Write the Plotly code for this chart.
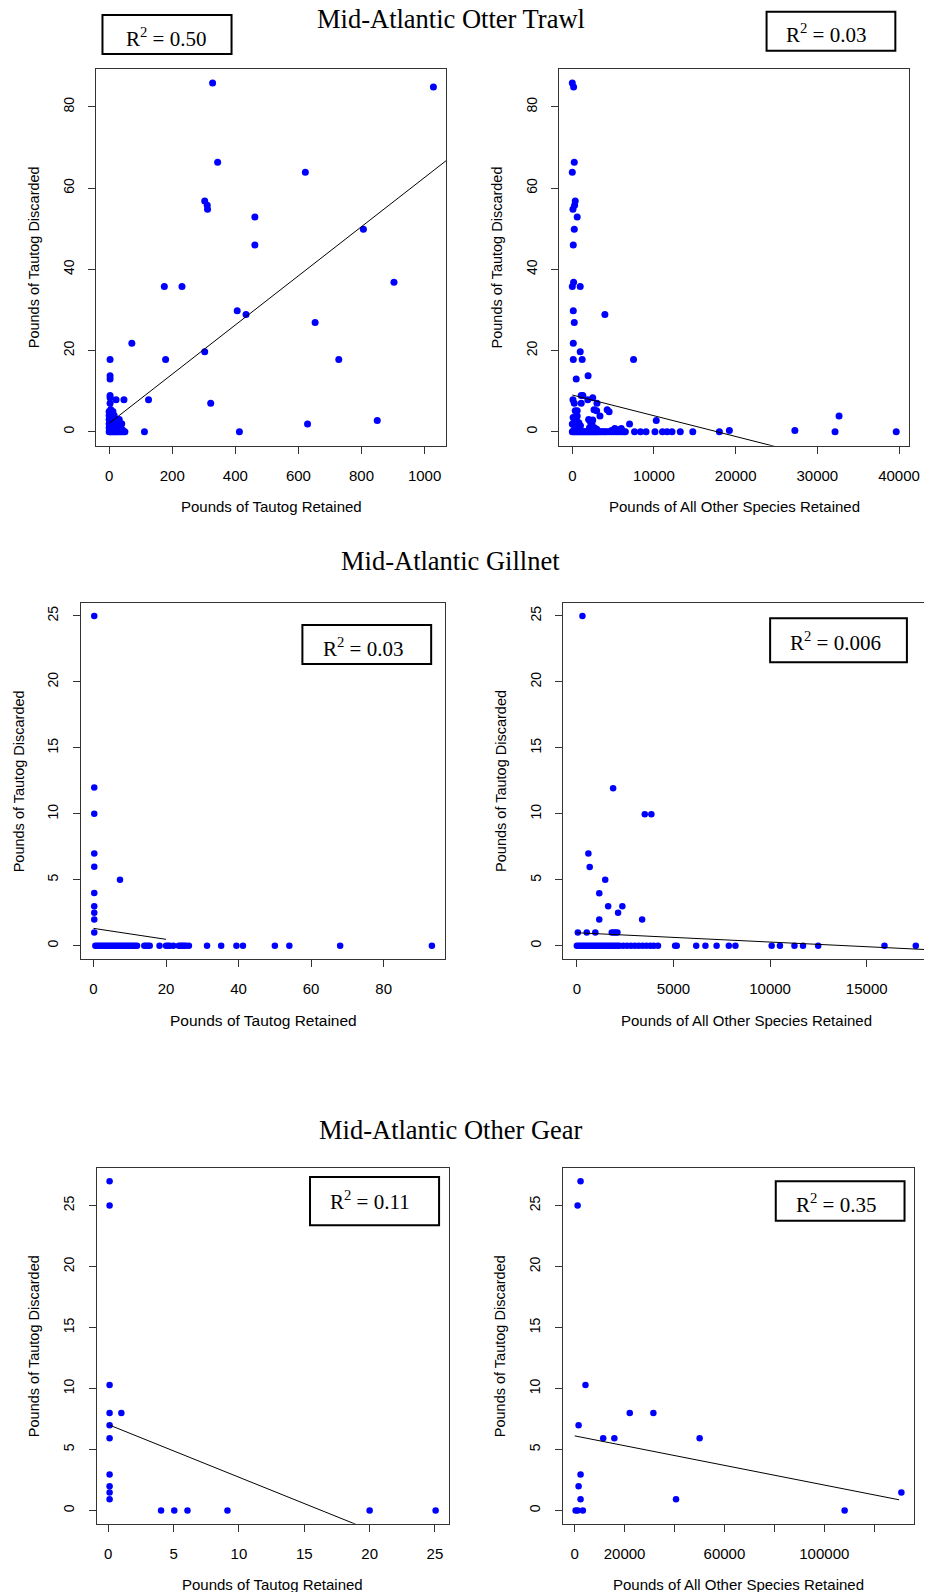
import plotly.graph_objects as go

W, H = 935, 1592

# ---------------- data ----------------
titles = ["Mid-Atlantic Otter Trawl", "Mid-Atlantic Gillnet", "Mid-Atlantic Other Gear"]
x_title_tautog = "Pounds of Tautog Retained"
x_title_other = "Pounds of All Other Species Retained"
y_title = "Pounds of Tautog Discarded"
r2_values = ["0.50", "0.03", "0.03", "0.006", "0.11", "0.35"]

# Otter trawl: (tautog retained, tautog discarded)
otter_tautog = [
    (1028, 84.9), (328, 85.9), (344, 66.4), (622, 63.9), (303, 56.8), (311, 55.8), (312, 54.8),
    (462, 52.9), (806, 49.9), (462, 46.0), (175, 35.8), (231, 35.8), (903, 36.8), (406, 29.8),
    (434, 28.9), (653, 26.9), (72, 21.8), (303, 19.7), (179, 17.8), (728, 17.8), (3, 17.8),
    (3, 13.8), (3, 13.0), (3, 8.9), (3, 8.4), (22, 7.9), (47, 7.9), (125, 7.9), (322, 7.0),
    (3, 7.0), (629, 1.9), (850, 2.8), (112, 0), (413, 0),
    (0, 0), (3, 0), (6, 0), (10, 0), (14, 0), (18, 0), (22, 0), (26, 0), (30, 0), (35, 0),
    (40, 0), (45, 0), (50, 0),
    (0, 1), (5, 1), (12, 1), (20, 1), (28, 1), (36, 1), (42, 0.5),
    (0, 2), (8, 2), (15, 2), (22, 2), (30, 2), (40, 2),
    (0, 3), (5, 3), (12, 3), (25, 3), (32, 3),
    (0, 4), (8, 4), (16, 4), (0, 5), (5, 5.5), (12, 5),
]

# Otter trawl: (all other species retained, tautog discarded)
otter_other = [
    (0, 85.9), (160, 84.9), (240, 66.4), (0, 63.9), (360, 56.8), (280, 55.8), (80, 54.8),
    (600, 52.9), (240, 49.9), (120, 46.0), (160, 36.8), (0, 35.8), (970, 35.8), (120, 29.8),
    (3990, 28.9), (240, 26.9), (120, 21.8), (970, 19.7), (120, 17.8), (1210, 17.8), (7500, 17.8),
    (480, 13.0), (1935, 13.8), (1090, 8.9), (1290, 8.9), (2500, 8.4), (80, 7.9), (1895, 7.9),
    (1090, 7.0), (240, 7.0), (3020, 7.0), (360, 5.2), (600, 5.2), (2660, 5.4), (2980, 5.2),
    (4270, 5.4), (4510, 4.9), (3390, 3.9), (600, 3.9), (0, 1.9), (690, 2.0), (2500, 2.9),
    (10280, 2.8), (7010, 1.9), (32660, 3.9), (19230, 0.3), (27250, 0.3),
    (100, 3.5), (300, 2.5), (500, 3.0), (800, 2.2), (1000, 1.5), (400, 1.0), (700, 1.0),
    (200, 0.5), (2000, 3.0), (2200, 2.5), (2400, 2.0), (2300, 1.5), (2700, 1.0), (2600, 0.5),
    (2100, 1.0), (3000, 0.6), (5200, 0.8), (6000, 0.8), (5500, 0.5), (4800, 0.3),
]
# other-species retained for trips with zero tautog discarded
otter_other_zero_x = [
    0, 150, 300, 450, 600, 750, 900, 1050, 1200, 1350, 1500, 1650, 1800, 1950, 2100, 2250,
    2400, 2550, 2700, 2850, 3000, 3200, 3400, 3600, 3800, 4000, 4200, 4500, 4800, 5100, 5400,
    5700, 6000, 6300, 6500, 7620, 8350, 9030, 10120, 11040, 11610, 12210, 13220, 14750,
    18010, 32170, 39660,
]

# Gillnet: (tautog retained, tautog discarded)
gill_tautog = [
    (0.2, 25), (0.2, 12), (0.2, 10), (0.2, 7), (0.2, 6), (0.2, 4), (0.2, 3), (0.2, 2.5),
    (0.2, 2), (0.2, 1), (7.3, 5),
]
gill_tautog_zero_x = [
    0.5, 1, 1.5, 2, 2.5, 3, 3.5, 4, 4.5, 5, 5.5, 6, 6.5, 7, 7.5, 8, 8.5, 9, 9.5, 10, 10.5,
    11, 11.5, 12, 14, 14.5, 15, 15.5, 18.2, 20, 20.5, 21, 22, 23.5, 24, 24.5, 25, 25.5, 26.3,
    31.3, 35.2, 39.4, 41.2, 50, 54, 68, 93.3,
]

# Gillnet: (all other species retained, tautog discarded)
gill_other = [
    (290, 25), (1877, 11.94), (3515, 9.96), (3856, 9.96), (597, 7.0), (665, 5.98),
    (1467, 5.0), (1160, 3.98), (1621, 3.0), (2354, 3.0), (2133, 2.5), (1160, 2.0),
    (3378, 2.0), (51, 1), (512, 1), (955, 1), (1807, 1), (1900, 1), (2000, 1), (2099, 1),
]
gill_other_zero_x = [
    0, 100, 200, 300, 400, 500, 600, 700, 800, 900, 1000, 1100, 1200, 1300, 1400, 1500,
    1600, 1700, 1800, 1900, 2000, 2100, 2200, 2400, 2600, 2800, 3000, 3200, 3400, 3600,
    3800, 3977, 4197, 5084, 5170, 6176, 6653, 7233, 7864, 8206, 10082, 10509, 11260,
    11703, 12488, 15918, 17539,
]

# Other gear: (tautog retained, tautog discarded)
gear_tautog = [
    (0.1, 27.0), (0.1, 25.0), (0.1, 10.29), (0.1, 7.99), (1.0, 7.99), (0.1, 7.0), (0.1, 5.93),
    (0.1, 2.96), (0.1, 1.98), (0.1, 1.48), (0.1, 0.93), (4.04, 0), (5.05, 0), (6.06, 0),
    (9.12, 0), (20.0, 0), (25.05, 0),
]

# Other gear: (all other species retained, tautog discarded)
gear_other = [
    (2365, 27.0), (1183, 25.0), (4336, 10.29), (1577, 7.0), (22075, 7.99), (31537, 7.99),
    (11432, 5.93), (15900, 5.93), (50065, 5.93), (2365, 2.96), (1577, 1.98), (2365, 0.93),
    (40604, 0.93), (394, 0), (1183, 0), (3285, 0), (108147, 0), (130880, 1.48),
]

# fitted regression lines (end points)
fit_otter_tautog = ([0, 1069], [2.07, 66.8])
fit_otter_other = ([0, 25000], [9.05, -3.72])
fit_gill_tautog = ([0, 20], [1.32, 0.49])
fit_gill_other = ([0, 18000], [0.99, -0.28])
fit_gear_tautog = ([0.1, 19.2], [7.0, -1.24])
fit_gear_other = ([0, 129960], [6.12, 0.88])

# tick values (labelled) and unlabelled tick marks
ticks_x_otter_tautog = [0, 200, 400, 600, 800, 1000]
ticks_x_otter_other = [0, 10000, 20000, 30000, 40000]
ticks_x_gill_tautog = [0, 20, 40, 60, 80]
ticks_x_gill_other = [0, 5000, 10000, 15000]
ticks_x_gear_tautog = [0, 5, 10, 15, 20, 25]
ticks_x_gear_other = [0, 20000, 60000, 100000]
ticks_x_gear_other_unlabelled = [40000, 80000, 120000]
ticks_y_otter = [0, 20, 40, 60, 80]
ticks_y_small = [0, 5, 10, 15, 20, 25]

# ---------------- layout helpers ----------------
def fx(p):
    return p / W

def fy(p):
    return 1 - p / H

def r_range(vals):
    lo, hi = min(vals), max(vals)
    d = (hi - lo) * 0.04
    return [lo - d, hi + d]

def split(pts, zero_x=None):
    xs = [p[0] for p in pts]
    ys = [p[1] for p in pts]
    if zero_x:
        xs = xs + list(zero_x)
        ys = ys + [0] * len(zero_x)
    return xs, ys

panels = [
    dict(data=split(otter_tautog), fit=fit_otter_tautog, box=(97.3, 451.7, 69, 445.7),
         xt=ticks_x_otter_tautog, minor=None, yt=ticks_y_otter, xtitle=x_title_tautog,
         r2box=(103.7, 234.3, 15, 54), r2c=(168, 37), ms=7, right=1.0, xts=15),
    dict(data=split(otter_other, otter_other_zero_x), fit=fit_otter_other, box=(566, 920, 69, 445.7),
         xt=ticks_x_otter_other, minor=None, yt=ticks_y_otter, xtitle=x_title_other,
         r2box=(775.7, 906, 11.7, 50.7), r2c=(836, 34), ms=7, right=1.0, xts=15),
    dict(data=split(gill_tautog, gill_tautog_zero_x), fit=fit_gill_tautog, box=(81.7, 450.7, 602.7, 959),
         xt=ticks_x_gill_tautog, minor=None, yt=ticks_y_small, xtitle=x_title_tautog,
         r2box=(306, 436.3, 625, 664), r2c=(367, 647), ms=6.5, right=1.0, xts=15.5),
    dict(data=split(gill_other, gill_other_zero_x), fit=fit_gill_other, box=(570, 940.4, 602.7, 959),
         xt=ticks_x_gill_other, minor=None, yt=ticks_y_small, xtitle=x_title_other,
         r2box=(779.3, 917.7, 618.3, 662.3), r2c=(845.5, 641.5), ms=6.5, right=935, xts=15),
    dict(data=split(gear_tautog), fit=fit_gear_tautog, box=(97.7, 454, 1168, 1523.7),
         xt=ticks_x_gear_tautog, minor=None, yt=ticks_y_small, xtitle=x_title_tautog,
         r2box=(313.7, 444.3, 1177, 1225.3), r2c=(374, 1200), ms=6.5, right=1.0, xts=15),
    dict(data=split(gear_other), fit=fit_gear_other, box=(569.3, 925.3, 1168, 1523.7),
         xt=ticks_x_gear_other, minor=ticks_x_gear_other_unlabelled, yt=ticks_y_small,
         xtitle=x_title_other, r2box=(785, 915.3, 1181.3, 1220.7), r2c=(846, 1203), ms=6.5,
         right=1.0, xts=15),
]

SANS = "Liberation Sans, Arial, sans-serif"
SERIF = "Liberation Serif, Times New Roman, serif"
LINE = "#333333"

fig = go.Figure()
layout = dict(
    width=W, height=H, margin=dict(l=0, r=0, t=0, b=0),
    paper_bgcolor="white", plot_bgcolor="white", showlegend=False,
    shapes=[], annotations=[],
)

for i, p in enumerate(panels, start=1):
    xs, ys = p["data"]
    l, r, t, b = p["box"]
    xr = r_range(xs)
    yr = r_range(ys)
    vis_r = r
    if p["right"] != 1.0:
        # plot region runs past the page edge: keep only the visible part
        vis_r = p["right"]
        xr = [xr[0], xr[0] + (xr[1] - xr[0]) * (vis_r - l) / (r - l)]
    xa = "x" if i == 1 else f"x{i}"
    ya = "y" if i == 1 else f"y{i}"
    fig.add_trace(go.Scatter(x=xs, y=ys, mode="markers", xaxis=xa, yaxis=ya,
                             marker=dict(color="#0000FF", size=p["ms"], line=dict(width=0))))
    fig.add_trace(go.Scatter(x=p["fit"][0], y=p["fit"][1], mode="lines", xaxis=xa, yaxis=ya,
                             line=dict(color="black", width=1)))
    common = dict(showgrid=False, zeroline=False, ticks="outside", ticklen=7, tickwidth=1,
                  tickcolor=LINE, showline=True, linecolor=LINE, linewidth=1,
                  ticklabelstandoff=9)
    xaxis = dict(common, domain=[fx(l), min(1.0, fx(vis_r))], range=xr, tickvals=p["xt"],
                 ticktext=[str(v) for v in p["xt"]], mirror=True, anchor=ya,
                 tickfont=dict(family=SANS, size=15, color="black"))
    if p["minor"]:
        xaxis["minor"] = dict(tickvals=p["minor"], ticks="outside", ticklen=7, tickwidth=1,
                              tickcolor=LINE, showgrid=False)
    yaxis = dict(common, domain=[fy(b), fy(t)], range=yr, tickvals=p["yt"],
                 ticktext=[str(v) for v in p["yt"]], tickangle=-90,
                 mirror=(p["right"] == 1.0), anchor=xa,
                 tickfont=dict(family=SANS, size=14, color="black"))
    layout["xaxis" if i == 1 else f"xaxis{i}"] = xaxis
    layout["yaxis" if i == 1 else f"yaxis{i}"] = yaxis

    # axis titles
    cx = (l + r) / 2
    cy = (t + b) / 2
    layout["annotations"].append(dict(
        text=p["xtitle"], x=fx(cx), y=fy(b + 61), xref="paper", yref="paper",
        xanchor="center", yanchor="middle", showarrow=False,
        font=dict(family=SANS, size=p["xts"], color="black")))
    layout["annotations"].append(dict(
        text=y_title, x=fx(l - 63), y=fy(cy), xref="paper", yref="paper",
        xanchor="center", yanchor="middle", showarrow=False, textangle=-90,
        font=dict(family=SANS, size=14.5, color="black")))

    # R^2 box
    bl, br, bt, bb = p["r2box"]
    layout["shapes"].append(dict(type="rect", xref="paper", yref="paper",
                                 x0=fx(bl), x1=fx(br), y0=fy(bb), y1=fy(bt),
                                 line=dict(color="black", width=2), fillcolor="white"))
    layout["annotations"].append(dict(
        text=f"R<sup>2</sup> = {r2_values[i - 1]}", x=fx(p["r2c"][0]), y=fy(p["r2c"][1]),
        xref="paper", yref="paper", xanchor="center", yanchor="middle", showarrow=False,
        font=dict(family=SERIF, size=21, color="black")))

# section titles
for txt, ypx in zip(titles, [19, 561, 1130]):
    layout["annotations"].append(dict(
        text=txt, x=fx(456), y=fy(ypx), xref="paper", yref="paper",
        xanchor="center", yanchor="middle", showarrow=False,
        font=dict(family=SERIF, size=26.5, color="black")))

fig.update_layout(**layout)
fig.write_html("out.html")
